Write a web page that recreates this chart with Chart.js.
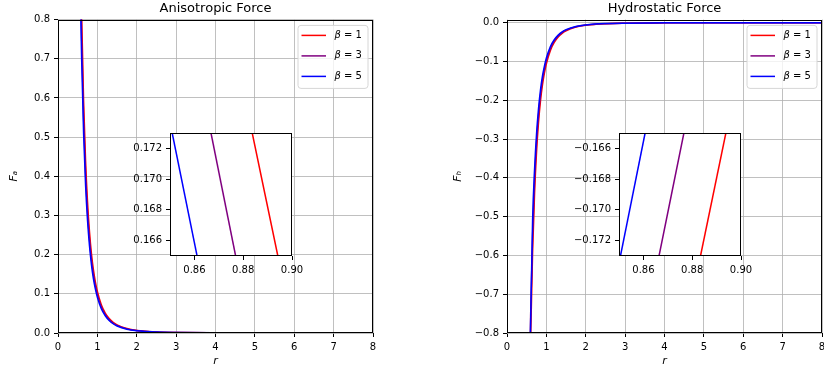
<!DOCTYPE html>
<html>
<head>
<meta charset="utf-8">
<script src="https://cdn.jsdelivr.net/npm/chart.js@4.4.0/dist/chart.umd.min.js"></script>
<style>
  html, body { margin: 0; padding: 0; background: #fff; }
  #wrap { position: relative; width: 824px; height: 375px; overflow: hidden; }
  canvas { position: absolute; }
</style>
</head>
<body>
<div id="wrap">
  <canvas id="aniso" width="412" height="375" style="left:0;top:0"></canvas>
  <canvas id="hydro" width="412" height="375" style="left:412px;top:0"></canvas>
  <canvas id="anisoZoom" width="196" height="155" style="left:120px;top:125px"></canvas>
  <canvas id="hydroZoom" width="206" height="155" style="left:560px;top:125px"></canvas>
</div>
<script>
// legend labels and colours
const betaLabels = ['β = 1', 'β = 3', 'β = 5'];
const lineColors = ['#ff0000', '#800080', '#0000ff'];

// radius samples
const r = [0.55, 0.575, 0.6, 0.65, 0.7, 0.75, 0.8, 0.85, 0.9, 0.95, 1.0, 1.1, 1.2, 1.3, 1.4, 1.5, 1.75, 2.0, 2.5, 3, 4, 5, 6, 7, 8];

// anisotropic force
const fa1 = [1.154, 0.966, 0.815, 0.592, 0.440, 0.334, 0.258, 0.202, 0.161, 0.130, 0.106, 0.072, 0.051, 0.037, 0.0275, 0.0209, 0.0113, 0.0066, 0.0027, 0.0013, 0.0004, 0.00017, 0.00008, 0.00004, 0.00003];
const fa3 = [1.068, 0.894, 0.754, 0.548, 0.407, 0.309, 0.239, 0.187, 0.149, 0.120, 0.098, 0.067, 0.047, 0.034, 0.0254, 0.0193, 0.0105, 0.0061, 0.0025, 0.0012, 0.0004, 0.00016, 0.00008, 0.00004, 0.00002];
const fa5 = [0.992, 0.831, 0.701, 0.509, 0.378, 0.287, 0.222, 0.174, 0.138, 0.112, 0.091, 0.062, 0.044, 0.032, 0.0236, 0.0180, 0.0097, 0.0057, 0.0023, 0.0011, 0.0003, 0.00015, 0.00007, 0.00003, 0.00002];

// hydrostatic force
const fh1 = [-1.154, -0.966, -0.815, -0.592, -0.440, -0.334, -0.258, -0.202, -0.161, -0.130, -0.106, -0.072, -0.051, -0.037, -0.0275, -0.0209, -0.0113, -0.0066, -0.0027, -0.0013, -0.0004, -0.00017, -0.00008, -0.00004, -0.00003];
const fh3 = [-1.068, -0.894, -0.754, -0.548, -0.407, -0.309, -0.239, -0.187, -0.149, -0.120, -0.098, -0.067, -0.047, -0.034, -0.0254, -0.0193, -0.0105, -0.0061, -0.0025, -0.0012, -0.0004, -0.00016, -0.00008, -0.00004, -0.00002];
const fh5 = [-1.10, -0.92, -0.775, -0.509, -0.378, -0.287, -0.222, -0.174, -0.138, -0.112, -0.091, -0.062, -0.044, -0.032, -0.0236, -0.0180, -0.0097, -0.0057, -0.0023, -0.0011, -0.0003, -0.00015, -0.00007, -0.00003, -0.00002];

// zoomed insets: r at the top and bottom edge of each inset
const faZoomR = [[0.8837, 0.8942], [0.8668, 0.8769], [0.8509, 0.8611]];
const faZoomV = [0.173, 0.165];
const fhZoomR = [[0.8834, 0.8938], [0.8664, 0.8766], [0.8506, 0.8607]];
const fhZoomV = [-0.173, -0.165];

// tick values
const rTicks = [0, 1, 2, 3, 4, 5, 6, 7, 8];
const faTicks = [0, 0.1, 0.2, 0.3, 0.4, 0.5, 0.6, 0.7, 0.8];
const fhTicks = [-0.8, -0.7, -0.6, -0.5, -0.4, -0.3, -0.2, -0.1, 0];
const zoomRTicks = [0.86, 0.88, 0.90];
const faZoomTicks = [0.166, 0.168, 0.170, 0.172];
const fhZoomTicks = [-0.172, -0.170, -0.168, -0.166];

Chart.defaults.font.family = '"DejaVu Sans", sans-serif';
Chart.defaults.color = '#000';
Chart.defaults.animation = false;
Chart.defaults.plugins.legend.display = false;
Chart.defaults.plugins.tooltip.enabled = false;

const fmt = (v, d) => v.toFixed(d).replace('-', '\u2212');

// white background + black box round the plot area
const framePlugin = {
  id: 'frame',
  beforeDraw(chart, args, opts) {
    if (!opts.fill) return;
    const a = chart.chartArea, ctx = chart.ctx;
    ctx.save();
    ctx.fillStyle = opts.fill;
    ctx.fillRect(a.left, a.top, a.right - a.left, a.bottom - a.top);
    ctx.restore();
  },
  afterDatasetsDraw(chart) {
    const a = chart.chartArea, ctx = chart.ctx;
    ctx.save();
    ctx.strokeStyle = '#000';
    ctx.lineWidth = 1;
    ctx.strokeRect(Math.round(a.left) + 0.5, Math.round(a.top) + 0.5,
      Math.round(a.right - a.left) - 1, Math.round(a.bottom - a.top) - 1);
    ctx.restore();
  }
};

// matplotlib style legend box in the upper right corner
const boxLegend = {
  id: 'boxLegend',
  afterDraw(chart, args, opts) {
    if (!opts.show) return;
    const a = chart.chartArea, ctx = chart.ctx;
    const w = 70, h = 63;
    const x0 = a.right - opts.right - w, y0 = a.top + opts.top;
    ctx.save();
    ctx.beginPath();
    ctx.roundRect(x0 + 0.5, y0 + 0.5, w, h, 3);
    ctx.fillStyle = 'rgba(255,255,255,0.8)';
    ctx.fill();
    ctx.strokeStyle = '#d6d6d6';
    ctx.lineWidth = 1;
    ctx.stroke();
    const sets = chart.data.datasets;
    sets.forEach((ds, i) => {
      const y = y0 + 10.5 + i * 20.5;
      ctx.beginPath();
      ctx.moveTo(x0 + 4, y);
      ctx.lineTo(x0 + 28.5, y);
      ctx.strokeStyle = ds.borderColor;
      ctx.lineWidth = 1.5;
      ctx.stroke();
      ctx.fillStyle = '#000';
      ctx.textBaseline = 'middle';
      ctx.font = 'italic 10px "DejaVu Sans"';
      const head = ds.label.charAt(0);
      ctx.fillText(head, x0 + 37, y);
      const hw = ctx.measureText(head).width;
      ctx.font = '10px "DejaVu Sans"';
      ctx.fillText(ds.label.slice(1), x0 + 37 + hw, y);
    });
    ctx.restore();
  }
};

function series(xs, ys, i) {
  return {
    label: betaLabels[i],
    data: xs.map((x, k) => ({ x: x, y: ys[k] })),
    borderColor: lineColors[i],
    backgroundColor: lineColors[i],
    borderWidth: 1.5,
    pointRadius: 0,
    cubicInterpolationMode: 'monotone',
    order: 2 - i
  };
}

// no extra room for labels hanging over the plot ends
function noOverhang(s) {
  s.paddingLeft = 0;
  s.paddingRight = 0;
  s.paddingTop = 0;
  s.paddingBottom = 0;
}

function axis(min, max, ticks, dec, extra) {
  return Object.assign({
    type: 'linear', min: min, max: max,
    afterBuildTicks: s => { s.ticks = ticks.map(v => ({ value: v })); },
    grid: { color: '#b0b0b0', lineWidth: 0.8, tickColor: '#000', tickLength: 4, tickWidth: 1 },
    border: { display: false },
    ticks: { font: { size: 10 }, padding: 4, maxRotation: 0, autoSkip: false, callback: v => fmt(v, dec) }
  }, extra);
}

function mainChart(id, title, yTitle, ys, yMin, yMax, yTicks, yWidth, yTitlePad, padRight) {
  return new Chart(document.getElementById(id), {
    type: 'line',
    data: { datasets: ys.map((v, i) => series(r, v, i)) },
    options: {
      responsive: false,
      events: [],
      layout: { padding: { left: 0, top: 0, right: padRight, bottom: 0 } },
      scales: {
        x: axis(0, 8, rTicks, 0, {
          afterFit: s => { s.height = 42; noOverhang(s); },
          title: { display: true, text: 'r', font: { size: 11, style: 'italic' }, padding: { top: 0, bottom: 7 } }
        }),
        y: axis(yMin, yMax, yTicks, 1, {
          afterFit: s => { s.width = yWidth; noOverhang(s); },
          title: { display: true, text: yTitle, font: { size: 11, style: 'italic' }, padding: { top: yTitlePad, bottom: 0 } }
        })
      },
      plugins: {
        title: { display: true, text: title, fullSize: false, font: { size: 13, weight: 'normal' }, padding: { top: 1, bottom: 3 } },
        frame: {},
        boxLegend: { show: true, right: 5.5, top: 5.3 }
      }
    },
    plugins: [framePlugin, boxLegend]
  });
}

function zoomChart(id, xs, vals, yMin, yMax, yTicks, yWidth, padRight) {
  return new Chart(document.getElementById(id), {
    type: 'line',
    data: { datasets: xs.map((x, i) => series(x, vals, i)) },
    options: {
      responsive: false,
      events: [],
      layout: { padding: { left: 0, top: 8, right: padRight, bottom: 4 } },
      scales: {
        x: axis(0.85, 0.90, zoomRTicks, 2, {
          afterFit: s => { s.height = 20; noOverhang(s); }
        }),
        y: axis(yMin, yMax, yTicks, 3, {
          afterFit: s => { s.width = yWidth; noOverhang(s); }
        })
      },
      plugins: {
        frame: { fill: '#ffffff' },
        boxLegend: { show: false }
      }
    },
    plugins: [framePlugin, boxLegend]
  });
}

// inset axes draw no grid lines, only tick marks
function noGrid(chart) {
  ['x', 'y'].forEach(k => { chart.options.scales[k].grid.drawOnChartArea = false; });
  chart.update();
}

mainChart('aniso', 'Anisotropic Force', 'F\u2090', [fa1, fa3, fa5], 0, 0.8, faTicks, 58, 8, 39);
mainChart('hydro', 'Hydrostatic Force', 'F\u2095', [fh1, fh3, fh5], -0.8, 0.008, fhTicks, 95, 40, 2);
noGrid(zoomChart('anisoZoom', faZoomR, faZoomV, 0.165, 0.173, faZoomTicks, 50, 24));
noGrid(zoomChart('hydroZoom', fhZoomR, fhZoomV, -0.173, -0.165, fhZoomTicks, 59, 25));
</script>
</body>
</html>
